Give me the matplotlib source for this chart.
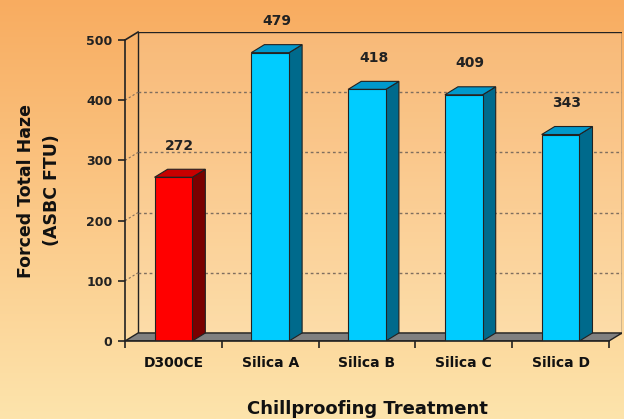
import numpy as np
import matplotlib
matplotlib.use("Agg")
from matplotlib import pyplot as plt
from matplotlib.patches import Polygon, Rectangle
from matplotlib.colors import LinearSegmentedColormap

categories = ['D300CE', 'Silica A', 'Silica B', 'Silica C', 'Silica D']
values = [272, 479, 418, 409, 343]
yticks = [0, 100, 200, 300, 400, 500]

plt.rcParams['font.family'] = ['DejaVu Sans']
plt.rcParams['font.weight'] = 'bold'

# fake 3d depth (x in category units, y in data units)
dx = 0.135
dy = 13.3
width = 0.39

fig = plt.figure(figsize=(6.24, 4.19), dpi=100)

# background gradient
bg = fig.add_axes([0, 0, 1, 1], zorder=-10)
cmap = LinearSegmentedColormap.from_list('bg', ['#F8AC60', '#FBC887', '#FDE4AC'])
grad = np.linspace(0, 1, 256).reshape(-1, 1)
bg.imshow(grad, aspect='auto', cmap=cmap, extent=[0, 1, 0, 1])
bg.set_axis_off()

ax = fig.add_axes([125 / 624, 78 / 419, 497 / 624, 309 / 419])
ax.set_facecolor('none')
n = len(categories)
ax.set_xlim(0, n + dx)
ax.set_ylim(0, 500 + dy)
for s in ax.spines.values():
    s.set_visible(False)

# back wall
ax.add_patch(Rectangle((dx, dy), n, 500, facecolor='white', alpha=0.12,
                       edgecolor='none', zorder=1))
ax.add_patch(Rectangle((dx, dy), n, 500, facecolor='none',
                       edgecolor='#222222', lw=1.0, zorder=2))

# gridlines on the wall
for t in yticks[1:-1]:
    ax.plot([dx, n + dx], [t + dy, t + dy], ls=(0, (2, 2)), color='#7f6e5e',
            lw=1.0, zorder=2)
    ax.plot([0, dx], [t, t + dy], ls=(0, (2, 2)), color='#7f6e5e', lw=0.8, zorder=2)

# floor
ax.add_patch(Polygon([(0, 0), (n, 0), (n + dx, dy), (dx, dy)], closed=True,
                     facecolor='#808080', edgecolor='#222222', lw=1.0, zorder=3))

# bars
x = np.arange(n) + 0.5
front_cols = ['#FF0000'] + ['#00CCFF'] * 4
side_cols = ['#7A0000'] + ['#006A8C'] * 4
top_cols = ['#C80000'] + ['#0099CC'] * 4
ax.bar(x, values, width=width, color=front_cols, edgecolor='#222222', lw=0.8, zorder=5)
for xi, v, sc, tc in zip(x, values, side_cols, top_cols):
    l, r = xi - width / 2, xi + width / 2
    ax.add_patch(Polygon([(r, 0), (r + dx, dy), (r + dx, v + dy), (r, v)], closed=True,
                         facecolor=sc, edgecolor='#222222', lw=0.8, zorder=4))
    ax.add_patch(Polygon([(l, v), (r, v), (r + dx, v + dy), (l + dx, v + dy)], closed=True,
                         facecolor=tc, edgecolor='#222222', lw=0.8, zorder=4))
    ax.annotate(str(v), (xi + dx / 2, v + dy), xytext=(0, 17), textcoords='offset points',
                ha='center', va='center', fontsize=10, fontweight='bold', color='#222222',
                annotation_clip=False)

# front axis lines
ax.plot([0, 0], [0, 500], color='#222222', lw=1.2, zorder=6, clip_on=False)
ax.plot([0, dx], [500, 500 + dy], color='#222222', lw=1.2, zorder=6, clip_on=False)
ax.plot([0, n], [0, 0], color='#222222', lw=1.2, zorder=6, clip_on=False)

ax.set_yticks(yticks)
ax.set_yticklabels([str(t) for t in yticks], fontsize=9, fontweight='bold', color='#222222')
ax.set_xticks(np.arange(n + 1))
ax.set_xticklabels([''] * (n + 1))
ax.set_xticks(x, minor=True)
ax.set_xticklabels(categories, minor=True, fontsize=10, fontweight='bold', color='#111111')
ax.tick_params(axis='x', which='minor', length=0, pad=11)
ax.tick_params(axis='x', which='major', length=5, width=1.2, color='#222222')
ax.tick_params(axis='y', length=5, width=1.2, color='#222222', pad=4)

ax.set_ylabel('Forced Total Haze\n(ASBC FTU)', fontsize=12.5, fontweight='bold',
              color='#111111', linespacing=1.6)
ax.yaxis.set_label_coords(-0.128, 250 / (500 + dy))
ax.set_xlabel('Chillproofing Treatment', fontsize=13, fontweight='bold',
              color='#111111')
ax.xaxis.set_label_coords(2.5 / (n + dx), -0.192)

fig.savefig('out.png', dpi=100)
